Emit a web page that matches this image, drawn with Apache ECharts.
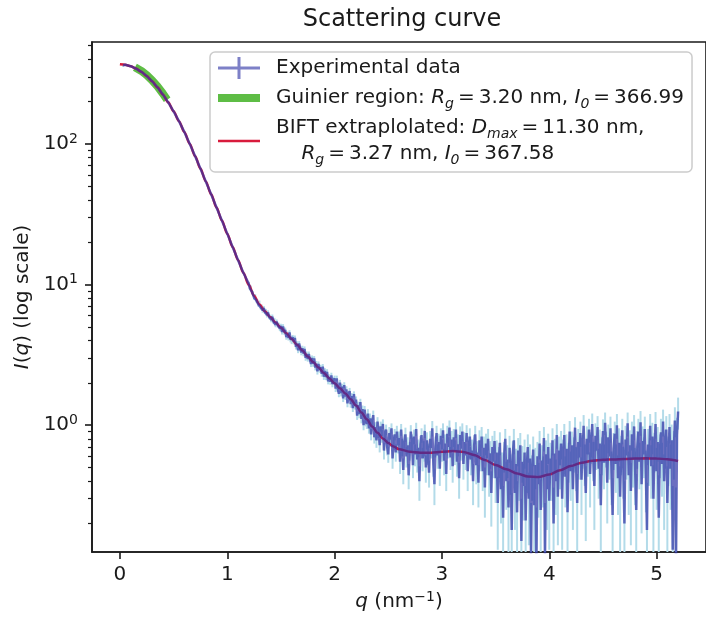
<!DOCTYPE html>
<html>
<head>
<meta charset="utf-8">
<script src="https://cdn.jsdelivr.net/npm/echarts@6/dist/echarts.min.js"></script>
<style>html,body{margin:0;padding:0;background:#fff}#chart{width:706px;height:617px}</style>
</head>
<body>
<div id="chart"></div>
<script>
// ---------------- data ----------------
const xTicks = [0, 1, 2, 3, 4, 5];
const yMajorTicks = [1, 10, 100];
const yMinorTicks = [0.2,0.3,0.4,0.5,0.6,0.7,0.8,0.9,2,3,4,5,6,7,8,9,20,30,40,50,60,70,80,90,200,300,400,500];

// BIFT fit curve
const fitQ = [0,0.05,0.1,0.15,0.2,0.25,0.3,0.35,0.4,0.45,0.5,0.55,0.6,0.65,0.7,0.75,0.8,0.85,0.9,0.95,1.0,1.05,1.1,1.15,1.2,1.25,1.3,1.35,1.4,1.45,1.5,1.55,1.6,1.65,1.7,1.75,1.8,1.85,1.9,1.95,2.0,2.05,2.1,2.15,2.2,2.25,2.3,2.35,2.4,2.45,2.5,2.55,2.6,
2.7,2.8,2.9,3.0,3.1,3.2,3.3,3.4,3.5,3.6,3.7,3.8,3.9,4.0,4.1,4.2,4.3,4.4,4.5,4.6,4.7,4.8,4.9,5.0,5.1,5.2];
const fitI = [367.6,364.8,356.6,343.1,325.1,303.4,278.8,252.3,224.8,197.3,170.5,145.1,121.6,100.3,81.9,66.7,54.1,43.8,35.3,28.5,23.0,18.5,14.96,12.13,9.95,8.32,7.21,6.46,5.88,5.37,4.92,4.50,4.10,3.73,3.39,3.08,2.81,2.57,2.35,2.16,1.99,1.83,1.68,1.53,1.38,1.23,1.10,0.98,0.882,0.804,0.746,0.704,0.675,
0.648,0.638,0.638,0.647,0.655,0.645,0.614,0.565,0.522,0.485,0.453,0.432,0.428,0.446,0.478,0.512,0.54,0.558,0.567,0.571,0.575,0.579,0.581,0.58,0.572,0.556];

// Guinier region
const guinierQ = [0.14,0.2,0.25,0.3,0.35,0.4,0.44];
const guinierI = [350,330,308,283,256,228,206];

// Experimental data
const expQ = [0.03,0.05,0.10,0.15,0.20,0.25,0.30,0.35,0.40,0.45,0.50,0.55,0.60,0.65,0.70,0.75,0.80,0.85,0.90,0.95,1.00,1.05,1.10,1.15,
1.20,1.21,1.22,1.23,1.24,1.25,1.26,1.27,1.28,1.29,1.30,1.31,1.32,1.33,1.34,1.35,1.36,1.37,1.38,1.39,
1.40,1.41,1.42,1.43,1.44,1.45,1.46,1.47,1.48,1.49,1.50,1.51,1.52,1.53,1.54,1.55,1.56,1.57,1.58,1.59,
1.60,1.61,1.62,1.63,1.64,1.65,1.66,1.67,1.68,1.69,1.70,1.71,1.72,1.73,1.74,1.75,1.76,1.77,1.78,1.79,
1.80,1.81,1.82,1.83,1.84,1.85,1.86,1.87,1.88,1.89,1.90,1.91,1.92,1.93,1.94,1.95,1.96,1.97,1.98,1.99,
2.00,2.01,2.02,2.03,2.04,2.05,2.06,2.07,2.08,2.09,2.10,2.11,2.12,2.13,2.14,2.15,2.16,2.17,2.18,2.19,
2.20,2.21,2.22,2.23,2.24,2.25,2.26,2.27,2.28,2.29,
2.30,2.31,2.32,2.33,2.34,2.35,2.36,2.37,2.38,2.39,2.40,2.41,2.42,2.43,2.44,2.45,2.46,2.47,2.48,2.49,
2.50,2.51,2.52,2.53,2.54,2.55,2.56,2.57,2.58,2.59,2.60,2.61,2.62,2.63,2.64,2.65,2.66,2.67,2.68,2.69,
2.70,2.71,2.72,2.73,2.74,2.75,2.76,2.77,2.78,2.79,2.80,2.81,2.82,2.83,2.84,2.85,2.86,2.87,2.88,2.89,
2.90,2.91,2.92,2.93,2.94,2.95,2.96,2.97,2.98,2.99,3.00,3.01,3.02,3.03,3.04,3.05,3.06,3.07,3.08,3.09,
3.10,3.11,3.12,3.13,3.14,3.15,3.16,3.17,3.18,3.19,3.20,3.21,3.22,3.23,3.24,3.25,3.26,3.27,3.28,3.29,
3.30,3.31,3.32,3.33,3.34,3.35,3.36,3.37,3.38,3.39,3.40,3.41,3.42,3.43,3.44,3.45,3.46,3.47,3.48,3.49,
3.50,3.51,3.52,3.53,3.54,3.55,3.56,3.57,3.58,3.59,3.60,3.61,3.62,3.63,3.64,3.65,3.66,3.67,3.68,3.69,
3.70,3.71,3.72,3.73,3.74,3.75,3.76,3.77,3.78,3.79,3.80,3.81,3.82,3.83,3.84,3.85,3.86,3.87,3.88,3.89,
3.90,3.91,3.92,3.93,3.94,3.95,3.96,3.97,3.98,3.99,4.00,4.01,4.02,4.03,4.04,4.05,4.06,4.07,4.08,4.09,
4.10,4.11,4.12,4.13,4.14,4.15,4.16,4.17,4.18,4.19,4.20,4.21,4.22,4.23,4.24,4.25,4.26,4.27,4.28,4.29,
4.30,4.31,4.32,4.33,4.34,4.35,4.36,4.37,4.38,4.39,4.40,4.41,4.42,4.43,4.44,4.45,4.46,4.47,4.48,4.49,
4.50,4.51,4.52,4.53,4.54,4.55,4.56,4.57,4.58,4.59,4.60,4.61,4.62,4.63,4.64,4.65,4.66,4.67,4.68,4.69,
4.70,4.71,4.72,4.73,4.74,4.75,4.76,4.77,4.78,4.79,4.80,4.81,4.82,4.83,4.84,4.85,4.86,4.87,4.88,4.89,
4.90,4.91,4.92,4.93,4.94,4.95,4.96,4.97,4.98,4.99,5.00,5.01,5.02,5.03,5.04,5.05,5.06,5.07,5.08,5.09,
5.10,5.11,5.12,5.13,5.14,5.15,5.16,5.17,5.18,5.19,5.20];
const expI = [362,364.8,356.6,343.1,325.1,303.4,278.8,252.3,224.8,197.3,170.5,145.1,121.6,100.3,81.9,66.7,54.1,43.8,35.3,28.5,23.0,18.5,14.96,12.13,
10.15,9.41,9.55,8.86,8.72,8.07,8.28,7.73,7.62,7.22,7.43,6.91,6.97,6.55,6.80,6.40,6.47,6.06,6.32,5.90,
5.88,5.61,5.90,5.46,5.58,5.18,5.44,5.14,5.15,4.86,5.07,4.60,5.04,4.58,4.76,4.23,4.46,4.17,4.56,4.05,
3.94,4.22,3.91,4.18,3.61,3.80,3.40,3.81,3.52,3.29,3.53,3.23,3.49,3.01,3.20,2.96,3.21,2.94,2.72,3.00,
2.73,2.98,2.57,2.74,2.41,2.72,2.48,2.58,2.32,2.61,2.21,2.43,2.20,2.39,2.05,2.20,2.04,2.26,1.96,2.08,
2.15,1.82,2.15,1.81,1.67,2.01,1.69,1.88,1.55,1.93,1.60,1.80,1.43,1.65,1.75,1.41,1.61,1.32,1.66,1.37,
1.52,1.17,1.39,1.20,1.46,1.11,1.30,1.00,1.29,1.06,
1.02,1.21,0.95,1.12,0.86,1.05,1.18,0.82,0.97,0.78,1.06,0.90,0.72,0.98,0.84,1.02,0.66,0.85,0.93,0.70,
0.62,0.88,0.79,0.95,0.58,0.76,0.86,0.64,0.90,0.72,0.81,0.55,0.93,0.70,0.48,0.77,0.86,0.60,0.72,0.44,
0.66,0.90,0.75,0.52,0.83,0.62,0.94,0.57,0.69,0.40,0.73,0.85,0.58,0.66,0.91,0.50,0.78,0.63,0.46,0.80,
0.69,0.95,0.54,0.38,0.71,0.88,0.61,0.76,0.49,0.84,0.67,0.92,0.56,0.74,0.45,0.87,0.70,0.96,0.59,0.79,
0.51,0.82,0.65,0.93,0.55,0.73,0.42,0.85,0.68,0.90,0.53,0.76,0.61,0.88,0.47,0.70,0.83,0.57,0.66,0.40,
0.72,0.86,0.52,0.64,0.39,0.78,0.60,0.83,0.47,0.69,0.36,0.74,0.58,0.80,0.44,0.63,0.33,0.70,0.55,0.77,
0.42,0.64,0.28,0.56,0.75,0.35,0.50,0.22,0.61,0.80,0.40,0.57,0.26,0.69,0.47,0.18,0.62,0.78,0.33,0.53,
0.24,0.66,0.44,0.72,0.15,0.55,0.37,0.64,0.21,0.49,0.70,0.30,0.58,0.12,0.45,0.67,0.27,0.52,0.10,0.60,
0.38,0.74,0.25,0.56,0.43,0.81,0.11,0.62,0.35,0.70,0.29,0.58,0.46,0.78,0.20,0.63,0.40,0.85,0.31,0.66,
0.52,0.74,0.30,0.61,0.85,0.43,0.68,0.24,0.57,0.90,0.47,0.72,0.35,0.64,0.96,0.52,0.28,0.76,0.59,0.88,
0.41,0.67,0.99,0.55,0.33,0.80,0.62,0.93,0.45,0.71,1.02,0.58,0.37,0.84,0.66,0.97,0.49,0.74,0.27,0.63,
0.91,0.54,1.04,0.70,0.39,0.82,0.60,0.95,0.46,0.23,0.68,0.87,0.53,1.00,0.42,0.75,0.31,0.64,0.92,0.50,
0.20,0.79,0.61,1.03,0.44,0.72,0.34,0.86,0.57,0.98,0.48,0.25,0.70,0.90,0.55,1.05,0.38,0.77,0.62,0.94,
0.45,0.18,0.73,0.59,0.99,0.51,0.83,0.30,0.67,1.02,0.47,0.76,0.22,0.64,0.89,0.53,1.06,0.40,0.71,0.93,
0.28,0.60,0.97,0.49,0.78,0.13,0.66,1.08,0.09,0.85,1.25];
const expErr = [10,6,5,4,4,3.5,3,3,2.5,2.2,2,1.8,1.5,1.3,1.1,1,0.8,0.7,0.6,0.5,0.4,0.35,0.3,0.25,
0.3,0.3,0.29,0.29,0.28,0.28,0.27,0.27,0.26,0.26,0.26,0.25,0.25,0.25,0.24,0.24,0.24,0.23,0.23,0.23,
0.22,0.22,0.22,0.21,0.21,0.21,0.2,0.2,0.2,0.2,0.19,0.19,0.19,0.18,0.18,0.18,0.18,0.17,0.17,0.17,
0.17,0.16,0.16,0.16,0.16,0.15,0.15,0.15,0.15,0.15,0.14,0.14,0.14,0.14,0.14,0.13,0.13,0.13,0.13,0.13,
0.13,0.12,0.12,0.12,0.12,0.12,0.12,0.11,0.11,0.11,0.11,0.11,0.11,0.11,0.1,0.1,0.1,0.1,0.1,0.1,
0.1,0.1,0.1,0.09,0.09,0.09,0.09,0.09,0.09,0.09,0.09,0.09,0.09,0.09,0.09,0.08,0.08,0.08,0.08,0.08,
0.08,0.08,0.08,0.08,0.08,0.08,0.08,0.08,0.08,0.08,
0.08,0.09,0.08,0.09,0.08,0.08,0.09,0.08,0.08,0.09,0.08,0.09,0.08,0.08,0.09,0.08,0.09,0.08,0.08,0.09,
0.08,0.09,0.09,0.08,0.09,0.09,0.08,0.09,0.09,0.09,0.09,0.1,0.09,0.1,0.1,0.09,0.1,0.1,0.1,0.09,
0.1,0.1,0.11,0.1,0.1,0.11,0.1,0.11,0.1,0.11,0.11,0.1,0.11,0.11,0.1,0.11,0.11,0.11,0.1,0.11,
0.11,0.12,0.11,0.11,0.12,0.11,0.12,0.11,0.12,0.11,0.12,0.11,0.12,0.12,0.11,0.12,0.12,0.12,0.11,0.12,
0.12,0.12,0.13,0.12,0.12,0.13,0.12,0.13,0.12,0.13,0.12,0.13,0.13,0.12,0.13,0.13,0.12,0.13,0.13,0.13,
0.13,0.13,0.14,0.13,0.13,0.14,0.13,0.14,0.13,0.14,0.14,0.13,0.14,0.14,0.13,0.14,0.14,0.14,0.13,0.14,
0.14,0.14,0.15,0.14,0.14,0.15,0.14,0.15,0.15,0.14,0.15,0.15,0.14,0.15,0.15,0.15,0.15,0.16,0.15,0.15,
0.16,0.15,0.15,0.16,0.15,0.16,0.16,0.15,0.16,0.16,0.16,0.16,0.15,0.16,0.16,0.16,0.16,0.17,0.16,0.16,
0.16,0.17,0.16,0.16,0.17,0.16,0.17,0.16,0.17,0.17,0.16,0.17,0.17,0.17,0.16,0.17,0.17,0.17,0.17,0.17,
0.17,0.17,0.17,0.18,0.17,0.17,0.18,0.17,0.18,0.17,0.18,0.18,0.17,0.18,0.18,0.18,0.17,0.18,0.18,0.18,
0.18,0.18,0.19,0.18,0.18,0.18,0.19,0.18,0.19,0.18,0.19,0.18,0.19,0.19,0.18,0.19,0.19,0.19,0.18,0.19,
0.19,0.19,0.19,0.2,0.19,0.19,0.19,0.2,0.19,0.19,0.2,0.19,0.2,0.2,0.19,0.2,0.2,0.2,0.19,0.2,
0.2,0.2,0.2,0.2,0.21,0.2,0.2,0.2,0.21,0.2,0.21,0.2,0.21,0.21,0.2,0.21,0.21,0.21,0.2,0.21,
0.21,0.21,0.21,0.22,0.21,0.21,0.21,0.22,0.21,0.22,0.22,0.21,0.22,0.22,0.22,0.22,0.23,0.22,0.22,0.23,
0.23,0.23,0.23,0.24,0.23,0.24,0.25,0.26,0.27,0.28,0.32];

const seriesNames = ['Experimental data', 'Guinier region', 'BIFT extrapolated'];
const legendLabels = [
  'Experimental data',
  'Guinier region: {i|R}{sub|g}{t|\u2009=\u20093.20 nm, }{i|I}{sub|0}{t|\u2009=\u2009366.99}',
  'BIFT extraplolated: {i|D}{sub|max}{t|\u2009=\u200911.30 nm,}\n    {i|R}{sub|g}{t|\u2009=\u20093.27 nm, }{i|I}{sub|0}{t|\u2009=\u2009367.58}'
];

// ---------------- chart ----------------
const FONT = 'DejaVu Sans';
const INK = '#1a1a1a';
const zip = (a, b) => a.map((v, i) => [v, b[i]]);

const richLegend = {
  t: {fontFamily: FONT, fontSize: 20, lineHeight: 26, color: INK},
  i: {fontFamily: FONT, fontSize: 20, lineHeight: 26, fontStyle: 'italic', color: INK},
  sub: {fontFamily: FONT, fontSize: 14, lineHeight: 15, verticalAlign: 'bottom', fontStyle: 'italic', color: INK}
};

const chart = echarts.init(document.getElementById('chart'));
chart.setOption({
  animation: false,
  backgroundColor: '#ffffff',
  title: {
    text: 'Scattering curve', left: 402, top: 3, textAlign: 'center', padding: [5, 0, 0, 0],
    textStyle: {fontFamily: FONT, fontSize: 24, fontWeight: 'normal', color: INK}
  },
  grid: {left: 92, right: -6, top: 42, bottom: 63, show: true, borderColor: INK, borderWidth: 1.6, backgroundColor: 'rgba(0,0,0,0)'},
  legend: {
    orient: 'vertical', left: 210, top: 52,
    padding: [3, 8, 5, 8], itemGap: 4,
    itemWidth: 42, itemHeight: 22,
    backgroundColor: 'rgba(255,255,255,0.85)', borderColor: '#cccccc', borderWidth: 1.5, borderRadius: 5,
    selectedMode: false,
    data: [
      {name: seriesNames[0], icon: 'path://M0,9.5H42V12.5H0Z M19.5,0H22.5V22H19.5Z'},
      {name: seriesNames[1], icon: 'path://M0,0H42V8H0Z'},
      {name: seriesNames[2], icon: 'path://M0,0H42V2.5H0Z'}
    ],
    formatter: name => legendLabels[seriesNames.indexOf(name)],
    textStyle: {fontFamily: FONT, fontSize: 20, lineHeight: 26, color: INK, padding: [0, 0, 0, 11], rich: richLegend}
  },
  xAxis: {
    type: 'value', min: -0.26, max: 5.46,
    splitLine: {show: false},
    axisLine: {onZero: false, lineStyle: {color: INK, width: 1.6}},
    axisTick: {customValues: xTicks, length: 7, lineStyle: {color: INK, width: 1.6}},
    axisLabel: {customValues: xTicks, margin: 13, fontFamily: FONT, fontSize: 20, color: INK},
    name: '{i|q} (nm{sup|−1})', nameLocation: 'middle', nameGap: 38,
    nameTextStyle: {fontFamily: FONT, fontSize: 20, color: INK, rich: {
      i: {fontFamily: FONT, fontSize: 20, fontStyle: 'italic', color: INK, lineHeight: 24},
      sup: {fontFamily: FONT, fontSize: 14, verticalAlign: 'top', lineHeight: 14, color: INK}
    }}
  },
  yAxis: [{
    type: 'log', logBase: 10, min: 0.1254, max: 530, position: 'left',
    splitLine: {show: false},
    axisLine: {onZero: false, lineStyle: {color: INK, width: 1.6}},
    axisTick: {customValues: yMajorTicks, length: 7, lineStyle: {color: INK, width: 1.6}},
    axisLabel: {customValues: yMajorTicks, margin: 14, color: INK,
      formatter: v => '{b|10}{sup|' + Math.round(Math.log10(v)) + '}',
      rich: {
        b: {fontFamily: FONT, fontSize: 20, lineHeight: 24, color: INK},
        sup: {fontFamily: FONT, fontSize: 14, lineHeight: 14, verticalAlign: 'top', color: INK}
      }},
    name: '{i|I}({i|q}) (log scale)', nameLocation: 'middle', nameGap: 52,
    nameTextStyle: {fontFamily: FONT, fontSize: 20, color: INK, rich: {
      i: {fontFamily: FONT, fontSize: 20, fontStyle: 'italic', color: INK}
    }}
  }, {
    type: 'log', logBase: 10, min: 0.1254, max: 530, position: 'left',
    splitLine: {show: false},
    axisLine: {show: false, onZero: false},
    axisTick: {customValues: yMinorTicks, length: 4, lineStyle: {color: INK, width: 1.2}},
    axisLabel: {show: false}
  }],
  series: [
    {
      name: 'error bars', type: 'custom', silent: true, clip: true, z: 1,
      data: expQ.map((q, i) => [q, expI[i], expErr[i]]),
      encode: {x: 0, y: 1},
      renderItem: (params, api) => {
        const q = api.value(0), v = api.value(1), e = api.value(2);
        const hi = api.coord([q, v + e]);
        const lo = api.coord([q, Math.max(v - e, 0.001)]);
        return {type: 'line', shape: {x1: hi[0], y1: hi[1], x2: lo[0], y2: lo[1]},
          style: {stroke: '#b3dbe9', lineWidth: 2}};
      }
    },
    {
      name: seriesNames[1], type: 'line', z: 2, silent: true, symbol: 'none',
      data: zip(guinierQ, guinierI),
      itemStyle: {color: '#5ebd45'},
      lineStyle: {color: '#5ebd45', width: 8}
    },
    {
      name: seriesNames[2], type: 'line', z: 3, silent: true, symbol: 'none', smooth: 0.3, smoothMonotone: 'x',
      data: zip(fitQ, fitI),
      itemStyle: {color: '#d81b3c'},
      lineStyle: {color: '#d81b3c', width: 2.5}
    },
    {
      name: seriesNames[0], type: 'line', z: 4, silent: true, symbol: 'none',
      data: zip(expQ, expI),
      itemStyle: {color: 'rgba(45,50,165,0.62)'},
      lineStyle: {color: 'rgba(45,50,165,0.7)', width: 2.5}
    }
  ]
});
</script>
</body>
</html>
